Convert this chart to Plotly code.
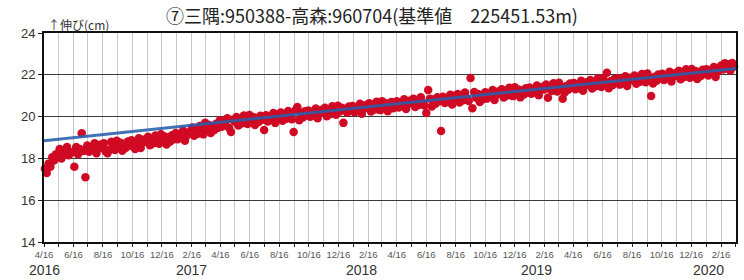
import pandas as pd
import plotly.graph_objects as go

# ---- data (cm), one row per month starting 2016-04-16, ~8 readings each ----
growth_cm = [
    17.15, 17.50, 17.30, 17.75, 17.60, 18.05, 17.90, 18.20,
    18.10, 18.45, 18.00, 18.35, 18.20, 18.55, 18.15, 18.30,
    18.30, 17.60, 18.55, 18.20, 18.45, 19.20, 18.35, 17.10,
    18.62, 18.32, 18.54, 18.40, 18.72, 18.25, 18.50, 18.65,
    18.50, 18.73, 18.33, 18.25, 18.43, 18.80, 18.53, 18.40,
    18.85, 18.57, 18.75, 18.37, 18.70, 18.51, 18.81, 18.62,
    18.87, 18.57, 18.45, 18.65, 18.97, 18.50, 18.75, 18.90,
    18.80, 19.03, 18.63, 18.93, 18.73, 19.10, 18.83, 18.70,
    19.15, 18.87, 19.05, 18.67, 19.00, 18.81, 19.11, 18.92,
    19.22, 18.92, 19.14, 19.00, 19.32, 18.85, 19.10, 19.25,
    19.25, 19.48, 19.08, 19.38, 19.18, 19.55, 19.28, 19.15,
    19.70, 19.42, 19.60, 19.22, 19.55, 19.36, 19.66, 19.47,
    19.82, 19.52, 19.74, 19.60, 19.92, 19.45, 19.26, 19.85,
    19.75, 19.98, 19.58, 19.88, 19.68, 20.05, 19.78, 19.65,
    20.08, 19.80, 19.98, 19.60, 19.93, 19.74, 20.04, 19.85,
    19.36, 20.07, 19.77, 19.99, 19.85, 20.17, 19.70, 20.10,
    19.97, 20.20, 19.80, 20.10, 19.90, 20.27, 20.00, 19.87,
    19.26, 20.30, 20.46, 19.82, 20.15, 19.96, 20.26, 20.07,
    20.29, 19.99, 20.21, 20.07, 20.39, 19.92, 20.17, 20.32,
    20.19, 20.42, 20.02, 20.32, 20.12, 20.49, 20.22, 20.09,
    20.52, 20.24, 20.42, 19.70, 20.37, 20.18, 20.48, 20.29,
    20.51, 20.21, 20.43, 20.29, 20.61, 20.14, 20.39, 20.54,
    20.41, 20.64, 20.24, 20.54, 20.34, 20.71, 20.44, 20.31,
    20.74, 20.46, 20.64, 20.26, 20.59, 20.70, 20.40, 20.51,
    20.73, 20.43, 20.65, 20.51, 20.83, 20.36, 20.61, 20.76,
    20.63, 20.86, 20.46, 20.76, 20.56, 20.93, 20.66, 20.53,
    20.17, 21.27, 20.86, 20.48, 20.81, 20.62, 20.92, 20.73,
    19.31, 20.95, 20.65, 20.87, 20.73, 21.05, 20.58, 20.98,
    20.85, 21.08, 20.68, 20.98, 20.78, 21.15, 20.88, 20.75,
    21.85, 20.40, 21.18, 20.90, 21.08, 20.70, 21.03, 20.84,
    21.17, 20.87, 21.09, 20.95, 21.27, 20.80, 21.05, 21.20,
    21.08, 21.31, 20.91, 21.21, 21.01, 21.38, 21.11, 20.98,
    21.40, 21.12, 21.30, 20.92, 21.25, 21.06, 21.36, 21.17,
    21.39, 21.09, 21.31, 21.17, 21.49, 21.02, 21.27, 21.42,
    21.30, 21.53, 20.90, 21.43, 21.23, 21.60, 21.33, 21.20,
    21.62, 21.34, 20.85, 21.14, 21.47, 21.28, 21.58, 21.39,
    21.61, 21.31, 21.53, 21.39, 21.71, 21.24, 21.49, 21.64,
    21.52, 21.75, 21.35, 21.65, 21.45, 21.82, 21.55, 21.42,
    21.84, 21.56, 22.10, 21.36, 21.69, 21.50, 21.80, 21.61,
    21.83, 21.53, 21.75, 21.61, 21.93, 21.46, 21.71, 21.86,
    21.74, 21.97, 21.57, 21.87, 21.67, 22.04, 21.77, 21.64,
    22.06, 21.78, 20.99, 21.58, 21.91, 21.72, 22.02, 21.83,
    22.05, 21.75, 21.97, 21.83, 22.15, 21.68, 21.93, 22.08,
    21.96, 22.19, 21.79, 22.09, 21.89, 22.26, 21.99, 21.86,
    22.28, 22.00, 22.18, 21.80, 22.13, 21.94, 22.24, 22.05,
    22.27, 21.97, 22.19, 22.05, 22.37, 21.90, 22.15, 22.30,
    22.45, 22.25, 22.55, 22.30, 22.50, 22.20, 22.56, 22.40,
]
data_start, data_end = "2016-04-14", "2020-03-14"

trend_dates = ["2016-04-16", "2020-03-18"]
trend_cm = [18.85, 22.30]

month_ticks = pd.date_range("2016-04-01", "2020-03-01", freq="MS") + pd.Timedelta(days=15)
tick_labels = [f"{d.month}/16" if d.month % 2 == 0 else "" for d in month_ticks]
year_labels = ["2016", "2017", "2018", "2019", "2020"]
year_label_dates = ["2016-04-16", "2017-02-15", "2018-02-03", "2019-01-30", "2020-01-21"]

title_text = "⑦三隅:950388-高森:960704(基準値　225451.53m)"
y_title = "↑伸び(cm)"

dates = pd.date_range(data_start, data_end, periods=len(growth_cm))

fig = go.Figure()
fig.add_trace(go.Scatter(
    x=dates, y=growth_cm, mode="markers",
    marker=dict(color="#d00a24", size=8.5, line=dict(width=0)),
    cliponaxis=False, showlegend=False,
))
fig.add_trace(go.Scatter(
    x=trend_dates, y=trend_cm, mode="lines",
    line=dict(color="rgba(40,95,172,0.88)", width=3),
    showlegend=False,
))

CJK = "Noto Sans CJK JP"
fig.update_layout(
    width=744, height=280,
    margin=dict(l=44, r=6, t=33, b=38),
    paper_bgcolor="white", plot_bgcolor="white",
    title=dict(text=title_text, x=0.5, xanchor="center", y=0.939, yanchor="middle",
               font=dict(family=CJK, size=18, color="#222")),
    font=dict(family="Liberation Sans", color="#333"),
)
fig.update_xaxes(
    type="date", range=["2016-04-16", "2020-03-18"],
    tickvals=month_ticks, ticktext=tick_labels, tickangle=0,
    tickfont=dict(size=9.5, color="#555", family="Liberation Sans Narrow, Liberation Sans"),
    ticks="outside", ticklen=3, tickcolor="#222",
    showgrid=True, gridcolor="#c8c8c8", gridwidth=1,
    showline=True, linecolor="#111", linewidth=2, mirror=True,
    zeroline=False,
)
fig.update_yaxes(
    range=[14, 24], tickvals=[14, 16, 18, 20, 22, 24],
    tickfont=dict(size=13, color="#333"),
    ticks="outside", ticklen=4, tickcolor="#222",
    showgrid=True, gridcolor="#3a3a3a", gridwidth=1,
    showline=True, linecolor="#111", linewidth=2, mirror=True,
    zeroline=False,
)
for lab, d in zip(year_labels, year_label_dates):
    fig.add_annotation(x=d, y=-0.134, xref="x", yref="paper", text=lab,
                       showarrow=False, xanchor="center", yanchor="middle",
                       font=dict(size=14, color="#333", family="Liberation Sans Narrow, Liberation Sans"))
fig.add_annotation(x=0, y=1.043, xref="paper", yref="paper", text=y_title,
                   showarrow=False, xanchor="left", yanchor="middle", xshift=2,
                   font=dict(size=12, color="#333", family=CJK))

fig.write_html("out.html", config={"displayModeBar": False},
               post_script="document.body.style.margin='0';document.body.style.overflow='hidden';")
